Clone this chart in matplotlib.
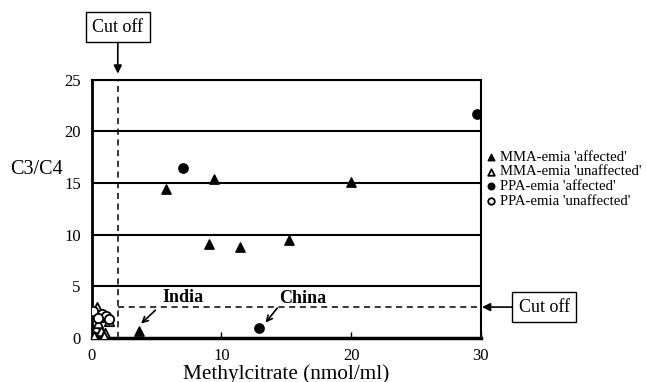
import numpy as np
import matplotlib
matplotlib.use('Agg')
import matplotlib.pyplot as plt

# ----------------------------------------------------------------------------------------------------------------------
# data

mma_aff_x = [3.6, 5.7, 9.4, 9.0, 11.4, 15.2, 20.0, 0.1]
mma_aff_y = [0.7, 14.4, 15.4, 9.1, 8.8, 9.5, 15.1, 0.1]
mma_un_x = [0.4, 0.9, 1.3, 0.3, 0.7, 1.0, 0.2, 0.9, 0.5]
mma_un_y = [3.0, 2.0, 1.7, 1.0, 0.7, 0.5, 0.2, 0.2, 1.5]
ppa_aff_x = [7.0, 29.7, 12.9]
ppa_aff_y = [16.5, 21.7, 1.0]
ppa_un_x = [0.1, 0.8, 1.1, 0.5, 1.3]
ppa_un_y = [2.6, 2.3, 2.1, 1.9, 1.8]

cutoff_x = 2
cutoff_y = 3
xticks = [0, 10, 20, 30]
yticks = [0, 5, 10, 15, 20, 25]

plt.rcParams['font.family'] = ['Liberation Serif', 'DejaVu Serif']

# ----------------------------------------------------------------------------------------------------------------------
# figure

fig = plt.figure(figsize=(6.47, 3.82), dpi=100)
ax = fig.add_axes([0.142, 0.115, 0.601, 0.676])

for g in yticks[1:]:
    ax.axhline(g, color='black', linewidth=1.5, zorder=1)

ax.plot([cutoff_x, cutoff_x], [0, 25], color='black', linestyle=(0, (4, 3)), linewidth=1.1, zorder=2)
ax.plot([cutoff_x, 30], [cutoff_y, cutoff_y], color='black', linestyle=(0, (4, 3)), linewidth=1.1, zorder=2)

ms = 45
ax.scatter(mma_aff_x, mma_aff_y, marker='^', s=ms, color='black', zorder=4, label="MMA-emia 'affected'")
ax.scatter(mma_un_x, mma_un_y, marker='^', s=ms, facecolor='white', edgecolor='black', linewidth=1.3, zorder=4,
           label="MMA-emia 'unaffected'")
ax.scatter(ppa_aff_x, ppa_aff_y, marker='o', s=ms, color='black', zorder=4, label="PPA-emia 'affected'")
ax.scatter(ppa_un_x, ppa_un_y, marker='o', s=ms, facecolor='white', edgecolor='black', linewidth=1.3, zorder=4,
           label="PPA-emia 'unaffected'")

ax.set_xlim(0, 30)
ax.set_ylim(0, 25)
ax.set_xticks(xticks)
ax.set_yticks(yticks)
ax.tick_params(axis='x', direction='in', length=4, width=1, labelsize=12, pad=7)
ax.tick_params(axis='y', length=0, labelsize=12, pad=8)
ax.spines['bottom'].set_linewidth(2.5)
ax.spines['left'].set_linewidth(2)
ax.spines['right'].set_linewidth(1.5)
ax.spines['top'].set_linewidth(1.5)
ax.set_xlabel('Methylcitrate (nmol/ml)', fontsize=15.3, labelpad=0)
fig.text(0.015, 0.555, 'C3/C4', fontsize=14.5, ha='left', va='center')

# annotations
ax.text(7.0, 3.9, 'India', fontsize=13, fontweight='bold', ha='center', va='center')
ax.annotate('', xy=(3.8, 1.4), xytext=(4.9, 2.7),
            arrowprops=dict(arrowstyle='->', color='black', lw=1.2, shrinkA=0, shrinkB=0))
ax.text(16.3, 3.8, 'China', fontsize=13, fontweight='bold', ha='center', va='center')
ax.annotate('', xy=(13.4, 1.5), xytext=(14.3, 2.9),
            arrowprops=dict(arrowstyle='->', color='black', lw=1.2, shrinkA=0, shrinkB=0))

box = dict(boxstyle='square,pad=0.35', facecolor='white', edgecolor='black', linewidth=1)
ax.annotate('Cut off', xy=(cutoff_x, 25.6), xycoords='data', xytext=(cutoff_x, 25 + 5.1), textcoords='data',
            fontsize=13, ha='center', va='center', bbox=box, annotation_clip=False,
            arrowprops=dict(arrowstyle='-|>', color='black', lw=1.2, mutation_scale=12, shrinkA=0, shrinkB=0))
ax.annotate('Cut off', xy=(30.1, cutoff_y), xycoords='data', xytext=(34.9, cutoff_y), textcoords='data',
            fontsize=13, ha='center', va='center', bbox=box, annotation_clip=False,
            arrowprops=dict(arrowstyle='-|>', color='black', lw=1.2, mutation_scale=12, shrinkA=0, shrinkB=0))

fig.legend(*ax.get_legend_handles_labels(), loc='center left', bbox_to_anchor=(0.752, 0.531), frameon=False,
           fontsize=10.6, handletextpad=0.3, handlelength=0.6, labelspacing=0.1, markerscale=0.7,
           borderpad=0, borderaxespad=0)

fig.savefig('out.png', dpi=100)
